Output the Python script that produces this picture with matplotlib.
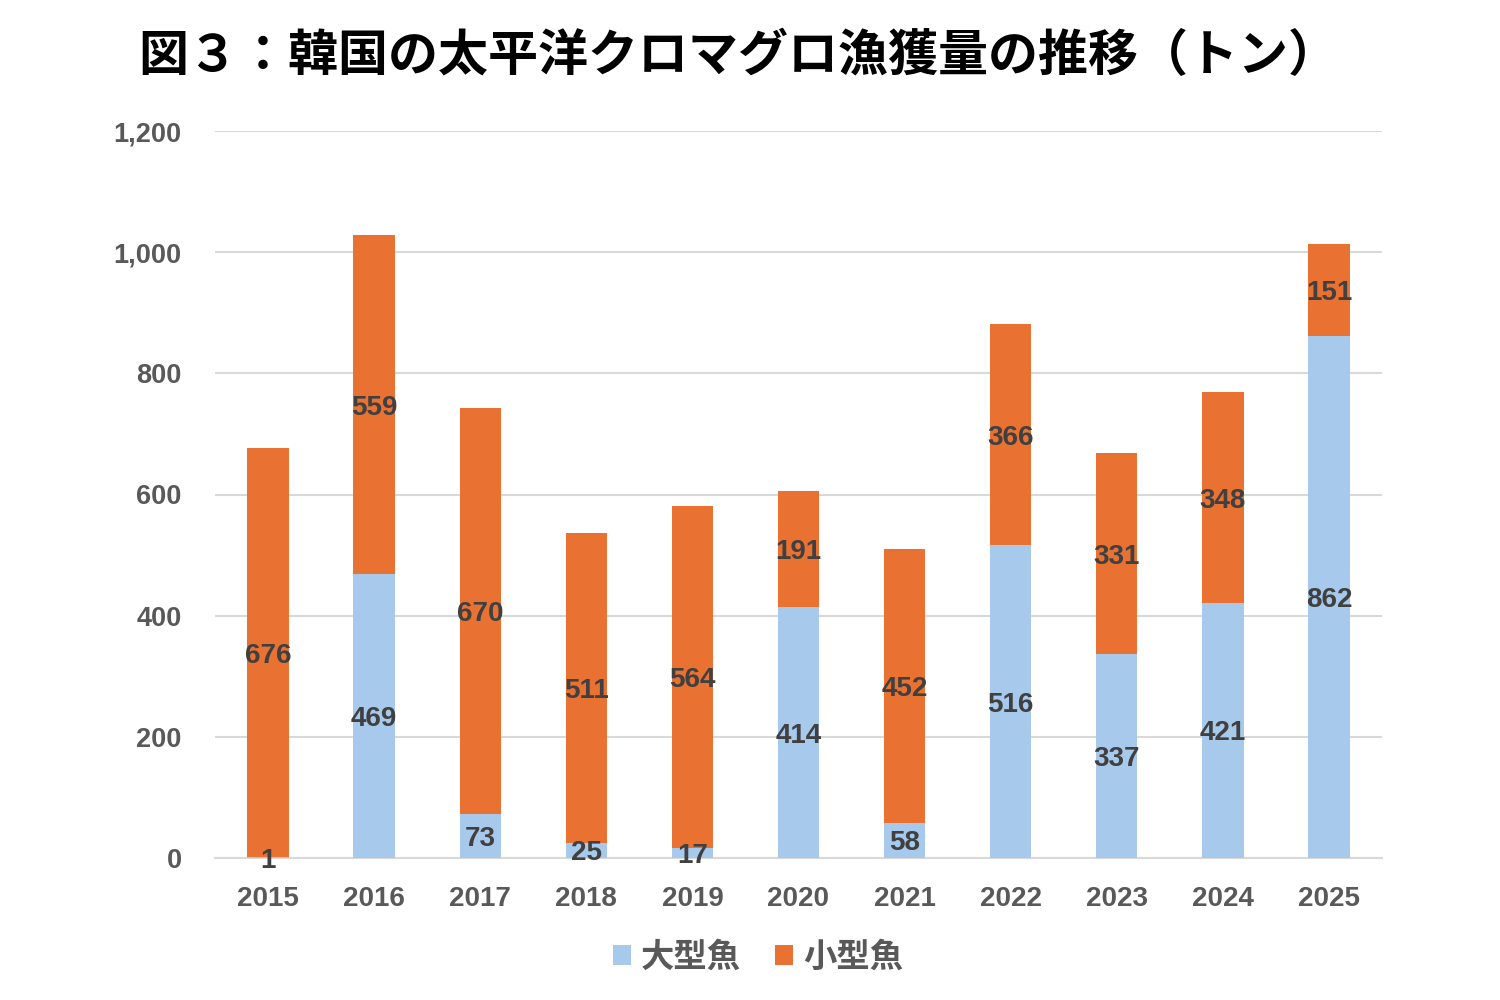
import matplotlib
matplotlib.use("Agg")
import matplotlib.pyplot as plt
from matplotlib.patches import Patch
import numpy as np

years = ["2015", "2016", "2017", "2018", "2019", "2020", "2021", "2022", "2023", "2024", "2025"]
large = [1, 469, 73, 25, 17, 414, 58, 516, 337, 421, 862]
small = [676, 559, 670, 511, 564, 191, 452, 366, 331, 348, 151]
yticks = [0, 200, 400, 600, 800, 1000, 1200]
series_names = ["大型魚", "小型魚"]
title = "図３：韓国の太平洋クロマグロ漁獲量の推移（トン）"

BLUE = "#A6C9EC"
ORANGE = "#E97132"
TICK = "#595959"
LAB = "#404040"
GRID = "#D9D9D9"
NUM_FONT = ["Liberation Sans", "DejaVu Sans"]
CJK_FONT = ["Noto Sans CJK JP", "DejaVu Sans"]

fig = plt.figure(figsize=(15, 10), dpi=100)
ax = fig.add_axes([215/1500, 1-858/1000, (1382-215)/1500, (858-131)/1000])

x = np.arange(len(years))
w = 0.39
ax.bar(x, large, width=w, color=BLUE, zorder=2)
ax.bar(x, small, width=w, bottom=large, color=ORANGE, zorder=2)

for xi, l, s in zip(x, large, small):
    ax.text(xi, l/2, f"{l}", ha="center", va="center_baseline", fontsize=20, fontweight="bold",
            color=LAB, family=NUM_FONT, zorder=3)
    ax.text(xi, l + s/2, f"{s}", ha="center", va="center_baseline", fontsize=20, fontweight="bold",
            color=LAB, family=NUM_FONT, zorder=3)

ax.set_xlim(-0.5, len(years)-0.5)
ax.set_ylim(0, 1200)
ax.set_yticks(yticks)
ax.set_yticklabels([f"{v:,}" for v in yticks])
ax.set_xticks(x)
ax.set_xticklabels(years)
for lab in ax.get_yticklabels():
    lab.set_family(NUM_FONT); lab.set_fontsize(19.5); lab.set_fontweight("bold"); lab.set_color(TICK)
for lab in ax.get_xticklabels():
    lab.set_family(NUM_FONT); lab.set_fontsize(20); lab.set_fontweight("bold"); lab.set_color(TICK)
ax.tick_params(axis="y", length=0, pad=24)
ax.tick_params(axis="x", length=0, pad=20)
ax.yaxis.grid(True, color=GRID, linewidth=1.5, zorder=0)
ax.set_axisbelow(True)
for sp in ["top", "right", "left"]:
    ax.spines[sp].set_visible(False)
ax.spines["bottom"].set_color(GRID)
ax.spines["bottom"].set_linewidth(1.5)
ax.spines["bottom"].set_zorder(1)

fig.text(138/1500, 1-57/1000, title, ha="left", va="center", fontsize=36,
         fontweight="bold", color="black", family=CJK_FONT)

handles = [Patch(facecolor=BLUE, label=series_names[0]),
           Patch(facecolor=ORANGE, label=series_names[1])]
leg = fig.legend(handles=handles, loc="center", bbox_to_anchor=(758/1500, 1-957/1000),
                 ncol=2, frameon=False, handlelength=0.55, handleheight=0.55,
                 handletextpad=0.3, columnspacing=1.0,
                 prop={"family": CJK_FONT, "size": 24, "weight": "bold"})
for t in leg.get_texts():
    t.set_color(TICK)

fig.savefig("out.png", dpi=100)
